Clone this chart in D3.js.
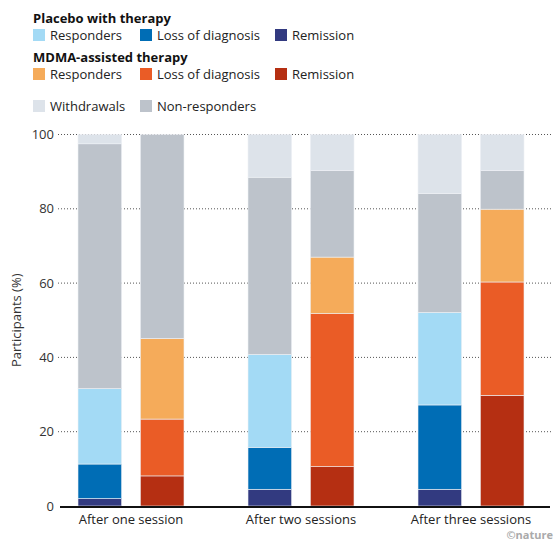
<!DOCTYPE html>
<html>
<head>
<meta charset="utf-8">
<script src="https://cdn.jsdelivr.net/npm/d3@7"></script>
<style>
  body { margin: 0; background: #fff; }
  svg { font-family: "Open Sans", "Noto Sans", sans-serif; }
</style>
</head>
<body>
<div id="chart"></div>
<script>
// sessions on the x axis
const sessions = ["After one session", "After two sessions", "After three sessions"];
const arms = ["placebo", "mdma"];
const keys = ["remission", "loss", "responders", "nonResponders", "withdrawals"];

// placebo with therapy (% of participants)
const placeboRemission = [2, 4.5, 4.5];
const placeboLoss = [9.3, 11.3, 22.7];
const placeboResponders = [20.3, 25, 24.9];
const placeboNonResponders = [65.9, 47.7, 32];
const placeboWithdrawals = [2.5, 11.5, 15.9];

// MDMA-assisted therapy (% of participants)
const mdmaRemission = [8.1, 10.6, 29.8];
const mdmaLoss = [15.3, 41.2, 30.5];
const mdmaResponders = [21.7, 15.2, 19.6];
const mdmaNonResponders = [54.9, 23.3, 10.4];
const mdmaWithdrawals = [0, 9.7, 9.7];

const yTicks = [0, 20, 40, 60, 80, 100];

const colors = {
    placebo: { remission: "#323a80", loss: "#006db5", responders: "#a3daf5", nonResponders: "#bdc3cb", withdrawals: "#dde3ea" },
    mdma: { remission: "#b52f12", loss: "#ea5c26", responders: "#f5ab5a", nonResponders: "#bdc3cb", withdrawals: "#dde3ea" }
};

const width = 554, height = 542;
const svg = d3.select("#chart").append("svg")
    .attr("width", width)
    .attr("height", height);

// build rows for the stack
const rows = [];
sessions.forEach((s, i) => {
    rows.push({ session: s, arm: "placebo", remission: placeboRemission[i], loss: placeboLoss[i],
        responders: placeboResponders[i], nonResponders: placeboNonResponders[i], withdrawals: placeboWithdrawals[i] });
    rows.push({ session: s, arm: "mdma", remission: mdmaRemission[i], loss: mdmaLoss[i],
        responders: mdmaResponders[i], nonResponders: mdmaNonResponders[i], withdrawals: mdmaWithdrawals[i] });
});

const x0 = d3.scaleBand().domain(sessions).range([46, 556]).padding(0);
const x1 = d3.scaleBand().domain(arms).range([32, 138]).paddingInner(0.3).paddingOuter(0);
const y = d3.scaleLinear().domain([0, 100]).range([506, 134.5]);

// gridlines
svg.append("g")
    .selectAll("line")
    .data(yTicks.filter(d => d > 0))
    .join("line")
    .attr("x1", 58)
    .attr("x2", 551)
    .attr("y1", d => y(d))
    .attr("y2", d => y(d))
    .attr("stroke", "#555")
    .attr("stroke-width", 1)
    .attr("stroke-dasharray", "1,2");

// tick labels
svg.append("g")
    .selectAll("text")
    .data(yTicks)
    .join("text")
    .attr("x", 54)
    .attr("y", d => y(d))
    .attr("dy", "0.35em")
    .attr("text-anchor", "end")
    .attr("font-size", 13)
    .attr("fill", "#333")
    .text(d => d);

// axis title
svg.append("text")
    .attr("transform", `translate(21,${(y(0) + y(100)) / 2}) rotate(-90)`)
    .attr("text-anchor", "middle")
    .attr("font-size", 13)
    .attr("fill", "#333")
    .text("Participants (%)");

// stacked bars
const stack = d3.stack().keys(keys);
const series = stack(rows);

svg.append("g")
    .selectAll("g")
    .data(series)
    .join("g")
    .selectAll("rect")
    .data(s => s.map(d => ({ key: s.key, d })))
    .join("rect")
    .attr("x", e => x0(e.d.data.session) + x1(e.d.data.arm))
    .attr("width", x1.bandwidth())
    .attr("y", e => y(e.d[1]))
    .attr("height", e => y(e.d[0]) - y(e.d[1]))
    .attr("fill", e => colors[e.d.data.arm][e.key])
    .attr("stroke", "#eef1f5")
    .attr("stroke-width", 0.6);

// baseline
svg.append("line")
    .attr("x1", 60)
    .attr("x2", 550)
    .attr("y1", y(0) + 1)
    .attr("y2", y(0) + 1)
    .attr("stroke", "#111")
    .attr("stroke-width", 2);

// x labels
svg.append("g")
    .selectAll("text")
    .data(sessions)
    .join("text")
    .attr("x", d => x0(d) + x1.range()[0] + (x1.range()[1] - x1.range()[0]) / 2)
    .attr("y", 524)
    .attr("text-anchor", "middle")
    .attr("font-size", 13)
    .attr("fill", "#222")
    .text(d => d);

// legend
const legendRows = [
    { title: "Placebo with therapy", y: 18, items: [
        { label: "Responders", color: colors.placebo.responders, x: 33 },
        { label: "Loss of diagnosis", color: colors.placebo.loss, x: 140 },
        { label: "Remission", color: colors.placebo.remission, x: 275 }] , iy: 35 },
    { title: "MDMA-assisted therapy", y: 57, items: [
        { label: "Responders", color: colors.mdma.responders, x: 33 },
        { label: "Loss of diagnosis", color: colors.mdma.loss, x: 140 },
        { label: "Remission", color: colors.mdma.remission, x: 275 }], iy: 74 },
    { title: null, items: [
        { label: "Withdrawals", color: colors.placebo.withdrawals, x: 33 },
        { label: "Non-responders", color: colors.placebo.nonResponders, x: 140 }], iy: 106 }
];

const legend = svg.append("g").attr("class", "legend");
legendRows.forEach(r => {
    if (r.title) {
        legend.append("text")
            .attr("x", 33)
            .attr("y", r.y)
            .attr("dy", "0.35em")
            .attr("font-size", 13)
            .attr("font-weight", "bold")
            .attr("fill", "#111")
            .text(r.title);
    }
    r.items.forEach(it => {
        legend.append("rect")
            .attr("x", it.x)
            .attr("y", r.iy - 6)
            .attr("width", 12)
            .attr("height", 12)
            .attr("fill", it.color);
        legend.append("text")
            .attr("x", it.x + 17)
            .attr("y", r.iy)
            .attr("dy", "0.35em")
            .attr("font-size", 13)
            .attr("fill", "#222")
            .text(it.label);
    });
});

// credit
svg.append("text")
    .attr("x", 553)
    .attr("y", 539)
    .attr("text-anchor", "end")
    .attr("font-size", 11)
    .attr("font-weight", "bold")
    .attr("fill", "#aaa")
    .text("©nature");
</script>
</body>
</html>
